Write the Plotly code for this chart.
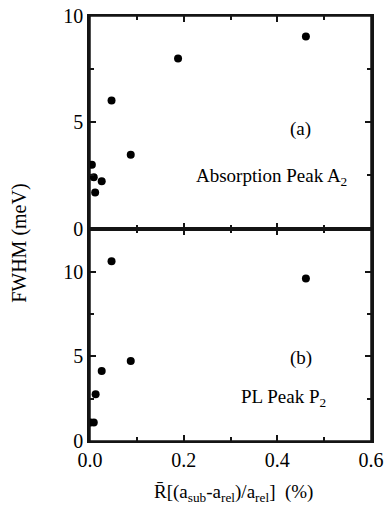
import plotly.graph_objects as go
from plotly.subplots import make_subplots

# Panel (a): Absorption Peak A2
x_a = [0.461, 0.188, 0.046, 0.087, 0.004, 0.008, 0.025, 0.011]
y_a = [9.03, 8.0, 6.02, 3.47, 3.0, 2.41, 2.22, 1.7]

# Panel (b): PL Peak P2
x_b = [0.046, 0.461, 0.087, 0.025, 0.012, 0.001, 0.008]
y_b = [10.62, 9.61, 4.73, 4.14, 2.77, 1.09, 1.09]

X_RANGE = [0, 0.6]
Y_RANGE_A = [0, 10]
Y_RANGE_B = [0, 12.56]

FONT = "Liberation Serif"
INK = "#000000"
LINE = "#141414"

fig = make_subplots(rows=2, cols=1, shared_xaxes=True, vertical_spacing=0)

# panel frames drawn from the axis ranges (kept visible in every renderer)
for (yr, row) in ((Y_RANGE_A, 1), (Y_RANGE_B, 2)):
    fig.add_trace(go.Scatter(
        x=[X_RANGE[0], X_RANGE[1], X_RANGE[1], X_RANGE[0], X_RANGE[0]],
        y=[yr[0], yr[0], yr[1], yr[1], yr[0]],
        mode="lines", line=dict(color=LINE, width=1.5), hoverinfo="skip",
        showlegend=False, cliponaxis=False), row=row, col=1)

mk = dict(color=INK, size=8, symbol="circle")
fig.add_trace(go.Scatter(x=x_a, y=y_a, mode="markers", marker=mk, showlegend=False), row=1, col=1)
fig.add_trace(go.Scatter(x=x_b, y=y_b, mode="markers", marker=mk, showlegend=False), row=2, col=1)

fig.update_xaxes(range=X_RANGE, tick0=0, dtick=0.2, tickformat=".1f",
                 showline=True, linecolor=LINE, linewidth=2, mirror="allticks",
                 ticks="inside", ticklen=6, tickwidth=2, tickcolor=LINE,
                 showgrid=False, zeroline=False, automargin=False,
                 minor=dict(tick0=0, dtick=0.1, ticks="inside", ticklen=4,
                            tickwidth=1.5, tickcolor=LINE))
fig.update_yaxes(tick0=0, dtick=5, showline=True, linecolor=LINE, linewidth=2.5,
                 mirror="allticks", ticks="inside", ticklen=6, tickwidth=2,
                 tickcolor=LINE, showgrid=False, zeroline=False, automargin=False,
                 minor=dict(tick0=0, dtick=2.5, ticks="inside", ticklen=4,
                            tickwidth=1.5, tickcolor=LINE))
fig.update_xaxes(showticklabels=False, row=1, col=1)
fig.update_xaxes(showticklabels=True, row=2, col=1)
fig.update_yaxes(range=Y_RANGE_A, row=1, col=1)
fig.update_yaxes(range=Y_RANGE_B, row=2, col=1)

ann_font = dict(family=FONT, size=19, color=INK)
fig.add_annotation(x=0.45, y=4.7, xref="x", yref="y", text="(a)", showarrow=False, font=ann_font)
fig.add_annotation(x=0.553, y=2.44, xref="x", yref="y", text="Absorption Peak A<sub>2</sub>",
                   showarrow=False, font=ann_font, xanchor="right")
fig.add_annotation(x=0.45, y=4.9, xref="x2", yref="y2", text="(b)", showarrow=False, font=ann_font)
fig.add_annotation(x=0.508, y=2.53, xref="x2", yref="y2", text="PL Peak P<sub>2</sub>",
                   showarrow=False, font=ann_font, xanchor="right")

fig.add_annotation(x=-0.249, y=0.464, xref="paper", yref="paper", text="FWHM (meV)",
                   textangle=-90, showarrow=False, xanchor="center", yanchor="middle",
                   font=dict(family=FONT, size=20, color=INK))
fig.add_annotation(x=0.512, y=-0.122, xref="paper", yref="paper",
                   text="R\u0304[(a<sub>sub</sub>-a<sub>rel</sub>)/a<sub>rel</sub>]  (%)",
                   showarrow=False, xanchor="center", yanchor="middle",
                   font=dict(family=FONT, size=19, color=INK))

fig.update_layout(width=388, height=520,
                  margin=dict(l=90, r=17, t=16, b=79, autoexpand=False),
                  paper_bgcolor="white", plot_bgcolor="white",
                  font=dict(family=FONT, size=20, color=INK))

fig.write_html("out.html")
